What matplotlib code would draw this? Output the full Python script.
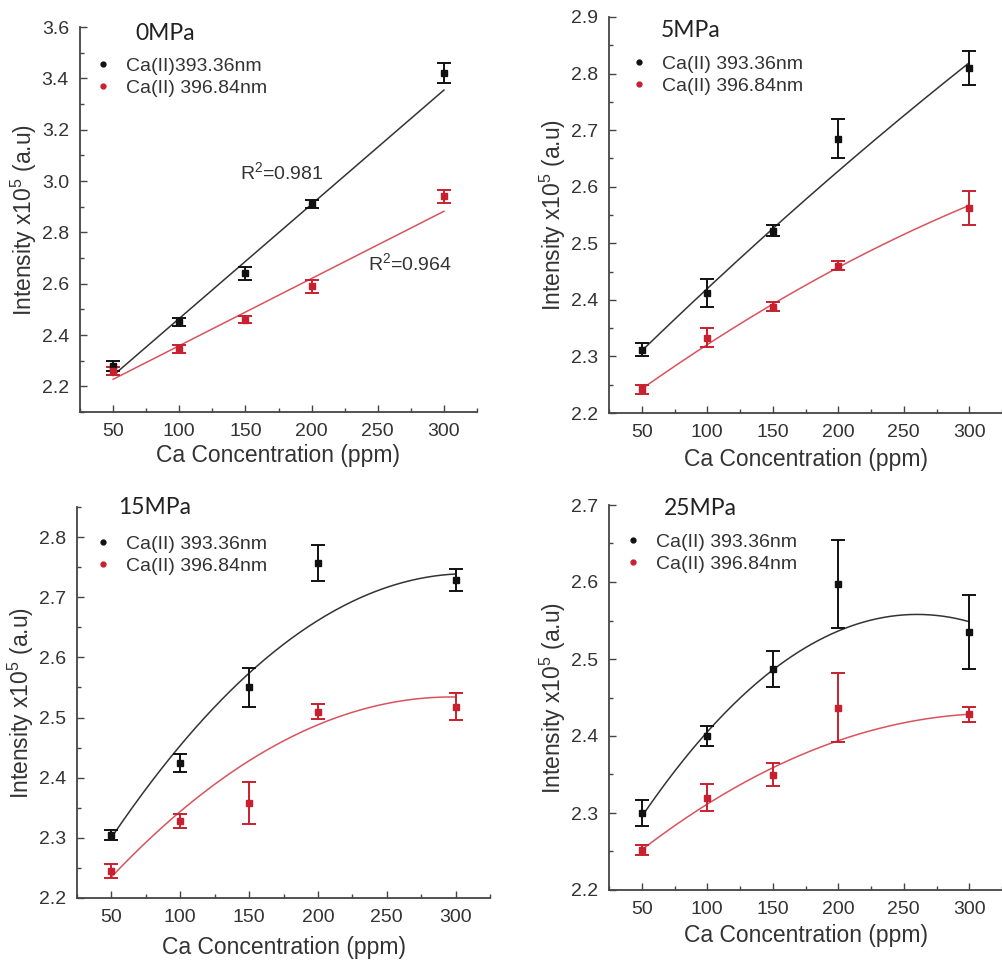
import numpy as np
import matplotlib
matplotlib.use('Agg')
import matplotlib.pyplot as plt
from matplotlib.ticker import MultipleLocator, FormatStrFormatter
from matplotlib.lines import Line2D

plt.rcParams['font.family'] = ['Liberation Sans', 'DejaVu Sans']
plt.rcParams['mathtext.fontset'] = 'custom'
plt.rcParams['mathtext.rm'] = 'Liberation Sans'
plt.rcParams['mathtext.it'] = 'Liberation Sans:italic'

conc = [50, 100, 150, 200, 300]

# 0 MPa
p0_black = [2.28, 2.45, 2.64, 2.91, 3.42]
p0_black_err = [0.02, 0.015, 0.025, 0.015, 0.04]
p0_red = [2.26, 2.345, 2.46, 2.59, 2.94]
p0_red_err = [0.015, 0.015, 0.015, 0.025, 0.025]

# 5 MPa
p5_black = [2.312, 2.412, 2.522, 2.685, 2.81]
p5_black_err = [0.012, 0.025, 0.01, 0.035, 0.03]
p5_red = [2.242, 2.333, 2.388, 2.46, 2.562]
p5_red_err = [0.008, 0.017, 0.008, 0.008, 0.03]

# 15 MPa
p15_black = [2.305, 2.425, 2.55, 2.757, 2.729]
p15_black_err = [0.008, 0.015, 0.033, 0.03, 0.018]
p15_red = [2.245, 2.328, 2.358, 2.51, 2.518]
p15_red_err = [0.012, 0.012, 0.035, 0.013, 0.022]

# 25 MPa
p25_black = [2.30, 2.40, 2.487, 2.597, 2.535]
p25_black_err = [0.017, 0.013, 0.023, 0.057, 0.048]
p25_red = [2.252, 2.32, 2.35, 2.437, 2.428]
p25_red_err = [0.006, 0.018, 0.015, 0.045, 0.01]

titles = ['0MPa', '5MPa', '15MPa', '25MPa']
legend_black = ['Ca(II)393.36nm', 'Ca(II) 393.36nm', 'Ca(II) 393.36nm', 'Ca(II) 393.36nm']
legend_red = 'Ca(II) 396.84nm'
r2_labels = ['R$^2$=0.981', 'R$^2$=0.964']

BLACK = '#111111'
RED = '#c8202e'
RED_FIT = '#d9535c'
TXT = '#333333'

fig = plt.figure(figsize=(10.02, 9.61), dpi=100)

W, H = 1002, 961
def px_axes(left, top, right, bottom):
    return fig.add_axes([left / W, 1 - bottom / H, (right - left) / W, (bottom - top) / H])

panels = [
    dict(box=(80, 27, 477, 412), ylim=(2.1, 3.6), major=0.2, minor=0.1,
         black=p0_black, berr=p0_black_err, red=p0_red, rerr=p0_red_err, deg=1,
         leg=(0.033, 0.922), title=(0.139, 0.984), xpad=3),
    dict(box=(609, 17, 1002, 413), ylim=(2.2, 2.9), major=0.1, minor=0.05,
         black=p5_black, berr=p5_black_err, red=p5_red, rerr=p5_red_err, deg=2,
         leg=(0.051, 0.904), title=(0.132, 0.967), xpad=5),
    dict(box=(77, 507, 490, 898), ylim=(2.2, 2.85), major=0.1, minor=0.05,
         black=p15_black, berr=p15_black_err, red=p15_red, rerr=p15_red_err, deg=2,
         leg=(0.039, 0.928), title=(0.099, 1.0), xpad=7),
    dict(box=(609, 505, 1002, 890), ylim=(2.2, 2.7), major=0.1, minor=0.05,
         black=p25_black, berr=p25_black_err, red=p25_red, rerr=p25_red_err, deg=2,
         leg=(0.036, 0.927), title=(0.14, 0.992), xpad=4),
]

xfit = np.linspace(50, 300, 200)

for i, p in enumerate(panels):
    ax = px_axes(*p['box'])
    for ys, err, col, fcol in [(p['black'], p['berr'], BLACK, '#333333'),
                               (p['red'], p['rerr'], RED, RED_FIT)]:
        coef = np.polyfit(conc, ys, p['deg'], w=1 / np.array(err))
        ax.plot(xfit, np.polyval(coef, xfit), color=fcol, lw=1.1, zorder=2)
        ax.errorbar(conc, ys, yerr=err, fmt='s', color=col, ms=4, capsize=5,
                    elinewidth=1.4, capthick=1.4, zorder=3)

    ax.set_xlim(25, 325)
    ax.set_ylim(*p['ylim'])
    ax.set_xticks([50, 100, 150, 200, 250, 300])
    ax.xaxis.set_minor_locator(MultipleLocator(25))
    ax.yaxis.set_major_locator(MultipleLocator(p['major']))
    ax.yaxis.set_minor_locator(MultipleLocator(p['minor']))
    ax.yaxis.set_major_formatter(FormatStrFormatter('%.1f'))
    ax.tick_params(which='major', direction='in', length=5, width=1, labelsize=14,
                   labelcolor=TXT, color='#444444', pad=8)
    ax.tick_params(which='minor', direction='in', length=3, width=1, color='#444444')
    for s in ['top', 'right']:
        ax.spines[s].set_visible(False)
    for s in ['left', 'bottom']:
        ax.spines[s].set_color('#444444')
        ax.spines[s].set_linewidth(1.3)

    ax.set_xlabel('Ca Concentration (ppm)', fontsize=16.5, color=TXT, labelpad=p['xpad'])
    ax.set_ylabel('Intensity x10$^5$ (a.u)', fontsize=16.5, color=TXT, labelpad=2)

    ax.text(p['title'][0], p['title'][1], titles[i], transform=ax.transAxes,
            fontsize=16.5, family=['Lato', 'DejaVu Sans'], color='#222222',
            ha='left', va='center')

    handles = [Line2D([], [], ls='none', marker='o', ms=3.5, color=BLACK),
               Line2D([], [], ls='none', marker='o', ms=3.5, color=RED)]
    leg = ax.legend(handles, [legend_black[i], legend_red], loc='upper left',
                    bbox_to_anchor=p['leg'], frameon=False, fontsize=14,
                    handlelength=1.0, handletextpad=0.7, labelspacing=0.25,
                    borderpad=0, borderaxespad=0)
    for t in leg.get_texts():
        t.set_color(TXT)

    if i == 0:
        ax.text(146, 3.035, r2_labels[0], fontsize=14, color=TXT, ha='left', va='center')
        ax.text(243, 2.68, r2_labels[1], fontsize=14, color=TXT, ha='left', va='center')

fig.savefig('out.png', dpi=100)
